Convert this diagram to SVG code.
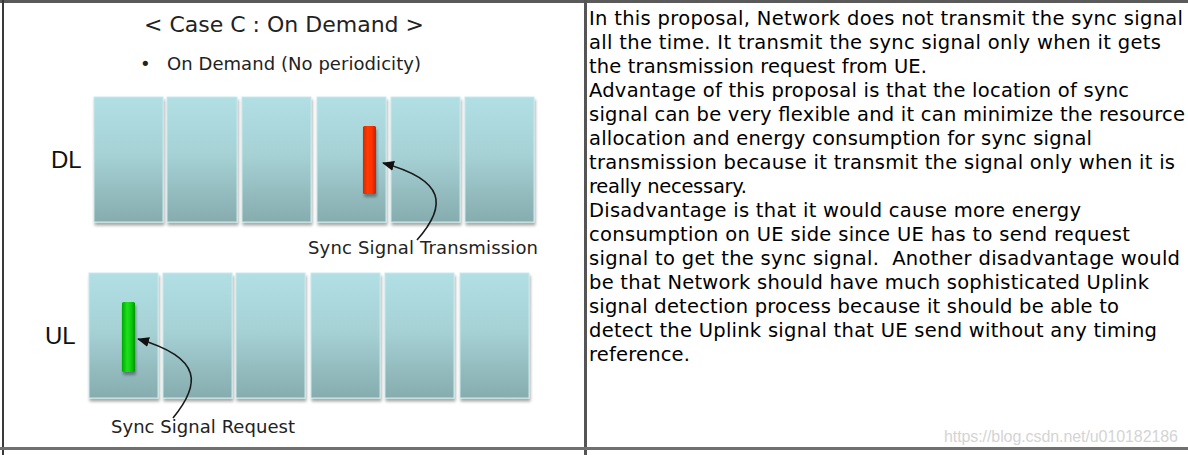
<svg xmlns="http://www.w3.org/2000/svg" width="1188" height="455" viewBox="0 0 1188 455">
  <style>
    .title { font-family: "DejaVu Sans", Verdana, sans-serif; font-size: 22px; fill: #222; }
    .lbl { font-family: "DejaVu Sans", Verdana, sans-serif; font-size: 18px; fill: #222; }
    .axis { font-family: "Liberation Sans", Arial, sans-serif; font-size: 24px; fill: #111; }
    .body { font-family: "DejaVu Sans", Verdana, sans-serif; font-size: 19.5px; fill: #000; white-space: pre; }
    .wm { font-family: "Liberation Sans", Arial, sans-serif; font-size: 16px; fill: #d4d4d4; }
    .blk { fill: url(#blkGrad); stroke: #c6e9ec; stroke-width: 1; }
    .conn { fill: none; stroke: #1a1a1a; stroke-width: 1.6; marker-end: url(#arrow); }
    .border { fill: #5a5a5a; }
  </style>
  <defs>
    <linearGradient id="blkGrad" x1="0" y1="0" x2="0" y2="1">
      <stop offset="0" stop-color="#b1dfe4"/>
      <stop offset="0.45" stop-color="#a6d2d6"/>
      <stop offset="1" stop-color="#86acae"/>
    </linearGradient>
    <linearGradient id="redGrad" x1="0" y1="0" x2="1" y2="0">
      <stop offset="0" stop-color="#d42a00"/>
      <stop offset="0.35" stop-color="#ff3a05"/>
      <stop offset="0.65" stop-color="#ff3300"/>
      <stop offset="1" stop-color="#c82200"/>
    </linearGradient>
    <linearGradient id="greenGrad" x1="0" y1="0" x2="1" y2="0">
      <stop offset="0" stop-color="#00a800"/>
      <stop offset="0.4" stop-color="#20e020"/>
      <stop offset="0.65" stop-color="#10d010"/>
      <stop offset="1" stop-color="#009a00"/>
    </linearGradient>
    <filter id="shadow" x="-10%" y="-10%" width="130%" height="130%">
      <feGaussianBlur in="SourceAlpha" stdDeviation="1.5"/>
      <feOffset dx="1" dy="3" result="b"/>
      <feComponentTransfer><feFuncA type="linear" slope="0.35"/></feComponentTransfer>
      <feMerge><feMergeNode/><feMergeNode in="SourceGraphic"/></feMerge>
    </filter>
    <marker id="arrow" viewBox="0 0 12 10" refX="11" refY="5" markerWidth="12" markerHeight="10" markerUnits="userSpaceOnUse" orient="auto">
      <path d="M0,0 L12,5 L0,10 Z" fill="#111"/>
    </marker>
  </defs>

  <rect x="0" y="0" width="1188" height="455" fill="#ffffff"/>

  <!-- table borders -->
  <g id="table-borders">
    <rect class="border" x="0" y="0" width="1188" height="3" fill="#6e6e6e"/>
    <rect x="2" y="0" width="2" height="455" fill="#3a3a3a"/>
    <rect x="584" y="0" width="3" height="455" fill="#555555"/>
    <rect x="0" y="447" width="1188" height="3" fill="#707070"/>
  </g>

  <!-- left panel -->
  <g id="title">
    <text class="title" x="284" y="32" text-anchor="middle">&lt; Case C : On Demand &gt;</text>
  </g>
  <g id="bullet">
    <text class="lbl" x="140" y="70">•</text>
    <text class="lbl" x="167" y="70" textLength="254">On Demand (No periodicity)</text>
  </g>
  <g id="dl-label"><text class="axis" x="51" y="168">DL</text></g>
  <g id="ul-label"><text class="axis" x="45" y="344">UL</text></g>

  <g id="dl-row" filter="url(#shadow)">
    <rect id="dl-1" class="blk" x="94" y="97" width="69" height="125"/>
    <rect id="dl-2" class="blk" x="167" y="97" width="70" height="125"/>
    <rect id="dl-3" class="blk" x="242" y="97" width="69" height="125"/>
    <rect id="dl-4" class="blk" x="317" y="97" width="69" height="125"/>
    <rect id="dl-5" class="blk" x="391" y="97" width="69" height="125"/>
    <rect id="dl-6" class="blk" x="465" y="97" width="69" height="125"/>
  </g>
  <g id="ul-row" filter="url(#shadow)">
    <rect id="ul-1" class="blk" x="89" y="273" width="69" height="125"/>
    <rect id="ul-2" class="blk" x="163" y="273" width="69" height="125"/>
    <rect id="ul-3" class="blk" x="236" y="273" width="69" height="125"/>
    <rect id="ul-4" class="blk" x="311" y="273" width="69" height="125"/>
    <rect id="ul-5" class="blk" x="385" y="273" width="69" height="125"/>
    <rect id="ul-6" class="blk" x="460" y="273" width="69" height="125"/>
  </g>

  <g id="sync-transmission" filter="url(#shadow)">
    <rect x="363" y="126" width="13" height="68" rx="1.5" fill="url(#redGrad)"/>
  </g>
  <g id="sync-request" filter="url(#shadow)">
    <rect x="122" y="302" width="13" height="70" rx="1.5" fill="url(#greenGrad)"/>
  </g>

  <g id="label-transmission"><text class="lbl" x="308" y="254" textLength="230">Sync Signal Transmission</text></g>
  <g id="label-request"><text class="lbl" x="111" y="433" textLength="184">Sync Signal Request</text></g>

  <g id="connectors">
    <path class="conn" d="M417,240 C448,205 445,180 383,163"/>
    <path class="conn" d="M173,418 C200,385 204,358 138,339"/>
  </g>

  <!-- right panel text -->
  <g id="description">
    <text class="body" x="589" y="25" textLength="594">In this proposal, Network does not transmit the sync signal</text>
    <text class="body" x="589" y="49" textLength="572">all the time. It transmit the sync signal only when it gets</text>
    <text class="body" x="589" y="73" textLength="338">the transmission request from UE.</text>
    <text class="body" x="589" y="97" textLength="540">Advantage of this proposal is that the location of sync</text>
    <text class="body" x="589" y="121" textLength="596">signal can be very flexible and it can minimize the resource</text>
    <text class="body" x="589" y="145" textLength="503">allocation and energy consumption for sync signal</text>
    <text class="body" x="589" y="169" textLength="586">transmission because it transmit the signal only when it is</text>
    <text class="body" x="589" y="193" textLength="158">really necessary.</text>
    <text class="body" x="589" y="217" textLength="492">Disadvantage is that it would cause more energy</text>
    <text class="body" x="589" y="241" textLength="541">consumption on UE side since UE has to send request</text>
    <text class="body" x="589" y="265" textLength="591">signal to get the sync signal.  Another disadvantage would</text>
    <text class="body" x="589" y="289" textLength="560">be that Network should have much sophisticated Uplink</text>
    <text class="body" x="589" y="313" textLength="530">signal detection process because it should be able to</text>
    <text class="body" x="589" y="337" textLength="568">detect the Uplink signal that UE send without any timing</text>
    <text class="body" x="589" y="361" textLength="101">reference.</text>
  </g>

  <g id="watermark"><text class="wm" x="944" y="442" textLength="234">https://blog.csdn.net/u010182186</text></g>
</svg>
